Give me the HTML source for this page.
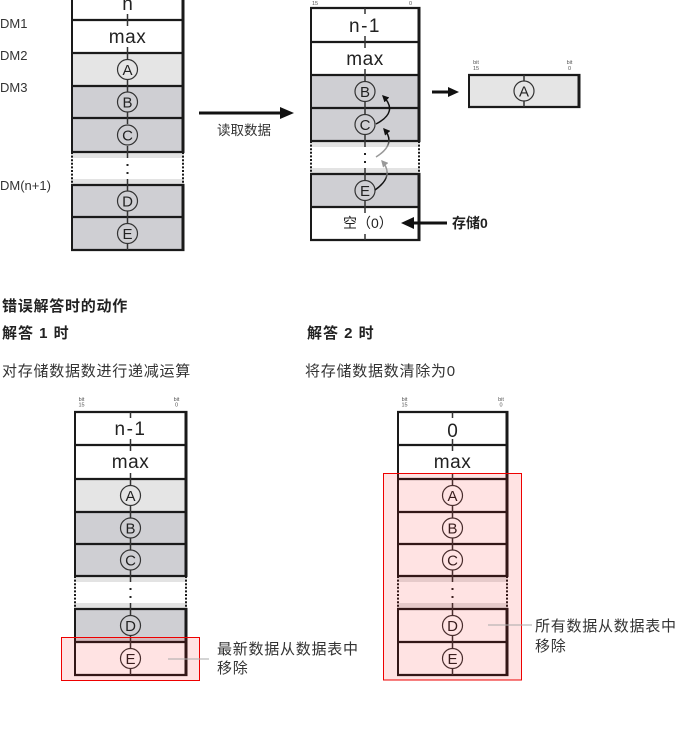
<!DOCTYPE html>
<html><head><meta charset="utf-8"><style>
html,body{margin:0;padding:0;background:#fff;}
body{width:676px;height:751px;overflow:hidden;}
svg{display:block;font-family:"Liberation Sans","Noto Sans CJK SC",sans-serif;}
.hl{stroke:#1a1a1a;stroke-width:2.2;fill:none;}
.vl{stroke:#1a1a1a;stroke-width:2;fill:none;}
.vr{stroke:#1a1a1a;stroke-width:3;fill:none;}
.dl{stroke:#1a1a1a;stroke-width:2;stroke-dasharray:2 1.6;fill:none;}
.tk{stroke:#333;stroke-width:1.5;fill:none;}
.cc{fill:none;stroke:#333;stroke-width:1.2;}
.lt{font-size:15px;fill:#222;text-anchor:middle;}
.big{font-size:19px;fill:#222;text-anchor:middle;}
.bt{font-size:5.5px;fill:#555;text-anchor:middle;}
.cn{font-size:15px;fill:#333;letter-spacing:0.75px;}
</style></head><body>
<svg width="676" height="751" viewBox="0 0 676 751" xmlns="http://www.w3.org/2000/svg">
<defs>
<marker id="mb" viewBox="0 0 10 10" refX="8" refY="5" markerWidth="7" markerHeight="7" orient="auto" markerUnits="userSpaceOnUse"><path d="M0 0L10 5L0 10z" fill="#111"/></marker>
<marker id="mg" viewBox="0 0 10 10" refX="8" refY="5" markerWidth="7" markerHeight="7" orient="auto" markerUnits="userSpaceOnUse"><path d="M0 0L10 5L0 10z" fill="#999"/></marker>
<linearGradient id="g2" gradientUnits="userSpaceOnUse" x1="0" y1="157" x2="0" y2="129"><stop offset="0.35" stop-color="#999"/><stop offset="0.65" stop-color="#111"/></linearGradient>
<linearGradient id="g1" gradientUnits="userSpaceOnUse" x1="0" y1="190" x2="0" y2="161"><stop offset="0.35" stop-color="#111"/><stop offset="0.65" stop-color="#999"/></linearGradient>
</defs>

<!-- ===== Left labels ===== -->
<g font-size="13" fill="#333">
<text x="0" y="28">DM1</text>
<text x="0" y="60">DM2</text>
<text x="0" y="92">DM3</text>
<text x="0" y="190">DM(n+1)</text>
</g>

<!-- ===== T1 ===== -->
<rect x="71" y="-13" width="113" height="66" fill="#fff"/>
<rect x="71" y="53" width="113" height="33" fill="#e5e5e5"/>
<rect x="71" y="86" width="113" height="66" fill="#cfcfd3"/>
<rect x="71" y="152" width="113" height="33" fill="#fff"/>
<rect x="71" y="153" width="113" height="5" fill="#e3e3e3"/>
<rect x="71" y="179" width="113" height="5" fill="#e3e3e3"/>
<rect x="71" y="185" width="113" height="65" fill="#cfcfd3"/>
<path class="hl" d="M71 20H184.5M71 53H184.5M71 86H184.5M71 118H184.5M71 152H184.5M71 185H184.5M71 217H184.5M71 250H184.5"/>
<path class="vl" d="M72 -13V152M72 185V251"/>
<path class="vr" d="M183 -13V152M183 185V251"/>
<path class="dl" d="M72 152V185M183 152V185"/>
<path class="tk" d="M127.5 14V26M127.5 47V59M127.5 80V92M127.5 112V124M127.5 146V158M127.5 179V191M127.5 211V223M127.5 244V250"/>
<text class="big" x="127.5" y="10">n</text>
<text class="big" x="127.5" y="43" letter-spacing="0.5">max</text>
<circle class="cc" cx="127.5" cy="69.5" r="10"/><text class="lt" x="127.5" y="75">A</text>
<circle class="cc" cx="127.5" cy="102" r="10"/><text class="lt" x="127.5" y="107.5">B</text>
<circle class="cc" cx="127.5" cy="135" r="10"/><text class="lt" x="127.5" y="140.5">C</text>
<rect x="126.5" y="164" width="2" height="2" fill="#222"/><rect x="126.5" y="172" width="2" height="2" fill="#222"/>
<circle class="cc" cx="127.5" cy="201" r="10"/><text class="lt" x="127.5" y="206.5">D</text>
<circle class="cc" cx="127.5" cy="233.5" r="10"/><text class="lt" x="127.5" y="239">E</text>

<!-- big arrow -->
<path d="M199 113H282" stroke="#111" stroke-width="3"/>
<path d="M280 107L294 113L280 119z" fill="#111"/>
<text x="217" y="135" font-size="13.5" fill="#333">读取数据</text>

<!-- ===== T2 ===== -->
<text class="bt" x="315" y="5">15</text>
<text class="bt" x="410.5" y="5">0</text>
<rect x="310" y="8" width="110" height="67" fill="#fff"/>
<rect x="310" y="75" width="110" height="66" fill="#cfcfd3"/>
<rect x="310" y="141" width="110" height="33" fill="#fff"/>
<rect x="310" y="142" width="110" height="5" fill="#e3e3e3"/>
<rect x="310" y="168" width="110" height="5" fill="#e3e3e3"/>
<rect x="310" y="174" width="110" height="33" fill="#cfcfd3"/>
<rect x="310" y="207" width="110" height="33" fill="#fff"/>
<path class="hl" d="M310 8H420.5M310 42H420.5M310 75H420.5M310 108H420.5M310 141H420.5M310 174H420.5M310 207H420.5M310 240H420.5"/>
<path class="vl" d="M311 7V141M311 174V241"/>
<path class="vr" d="M419 7V141M419 174V241"/>
<path class="dl" d="M311 141V174M419 141V174"/>
<path class="tk" d="M365 8V14M365 36V48M365 69V81M365 102V114M365 135V147M365 168V180M365 201V213M365 234V240"/>
<text class="big" x="365" y="32" font-size="18" letter-spacing="1.5">n-1</text>
<text class="big" x="365" y="65" letter-spacing="0.5">max</text>
<circle class="cc" cx="365" cy="91.5" r="10"/><text class="lt" x="365" y="97">B</text>
<circle class="cc" cx="365" cy="124.5" r="10"/><text class="lt" x="365" y="130">C</text>
<rect x="364" y="153" width="2" height="2" fill="#222"/><rect x="364" y="161" width="2" height="2" fill="#222"/>
<circle class="cc" cx="365" cy="190.5" r="10"/><text class="lt" x="365" y="196">E</text>
<text x="343" y="228" font-size="14" fill="#222">空（0）</text>
<!-- curved arrows -->
<path d="M376 124Q399 112 383 96" fill="none" stroke="#111" stroke-width="1.5" marker-end="url(#mb)"/>
<path d="M376 157Q397 144 384 129" fill="none" stroke="url(#g2)" stroke-width="1.5" marker-end="url(#mb)"/>
<path d="M375 190Q395 176 382 161" fill="none" stroke="url(#g1)" stroke-width="1.5" marker-end="url(#mg)"/>
<!-- store 0 arrow -->
<path d="M447 223H412" stroke="#111" stroke-width="3"/>
<path d="M414 217L401 223L414 229z" fill="#111"/>
<text x="452" y="228" font-size="14" font-weight="bold" fill="#222">存储0</text>

<!-- small arrow -->
<path d="M432 92H450" stroke="#111" stroke-width="3"/>
<path d="M448 87L459 92L448 97z" fill="#111"/>

<!-- Box A -->
<text class="bt" x="476" y="64">bit</text><text class="bt" x="476" y="70">15</text>
<text class="bt" x="569.5" y="64">bit</text><text class="bt" x="569.5" y="70">0</text>
<rect x="468" y="75" width="112" height="32" fill="#e5e5e5"/>
<path class="hl" d="M468 75H580.5M468 107H580.5"/>
<path class="vl" d="M469 74V108"/>
<path class="vr" d="M579 74V108"/>
<path class="tk" d="M524 75V81M524 101V107"/>
<circle class="cc" cx="524" cy="91" r="10"/><text class="lt" x="524" y="96.5">A</text>

<!-- ===== Headings ===== -->
<text x="2" y="311" font-size="15" font-weight="bold" fill="#222" letter-spacing="0.75">错误解答时的动作</text>
<text x="2" y="338" font-size="15" font-weight="bold" fill="#222" letter-spacing="1" xml:space="preserve">解答 1 时</text>
<text x="307" y="338" font-size="15" font-weight="bold" fill="#222" letter-spacing="1" xml:space="preserve">解答 2 时</text>
<text class="cn" x="2" y="376">对存储数据数进行递减运算</text>
<text class="cn" x="305" y="376">将存储数据数清除为0</text>

<!-- ===== T3 ===== -->
<text class="bt" x="81.5" y="401">bit</text><text class="bt" x="81.5" y="406.5">15</text>
<text class="bt" x="176.5" y="401">bit</text><text class="bt" x="176.5" y="406.5">0</text>
<rect x="74" y="412" width="113" height="67" fill="#fff"/>
<rect x="74" y="479" width="113" height="33" fill="#e5e5e5"/>
<rect x="74" y="512" width="113" height="64" fill="#cfcfd3"/>
<rect x="74" y="576" width="113" height="33" fill="#fff"/>
<rect x="74" y="577" width="113" height="5" fill="#e3e3e3"/>
<rect x="74" y="603" width="113" height="5" fill="#e3e3e3"/>
<rect x="74" y="609" width="113" height="33" fill="#cfcfd3"/>
<rect x="74" y="642" width="113" height="33" fill="#fff"/>
<path class="hl" d="M74 412H187.5M74 445H187.5M74 479H187.5M74 512H187.5M74 544H187.5M74 576H187.5M74 609H187.5M74 642H187.5M74 675H187.5"/>
<path class="vl" d="M75 411V576M75 609V676"/>
<path class="vr" d="M186 411V576M186 609V676"/>
<path class="dl" d="M75 576V609M186 576V609"/>
<path class="tk" d="M130.5 412V418M130.5 439V451M130.5 473V485M130.5 506V518M130.5 538V550M130.5 570V582M130.5 603V615M130.5 636V648M130.5 669V675"/>
<text class="big" x="130.5" y="435" font-size="18" letter-spacing="1.5">n-1</text>
<text class="big" x="130.5" y="468" letter-spacing="0.5">max</text>
<circle class="cc" cx="130.5" cy="495.5" r="10"/><text class="lt" x="130.5" y="501">A</text>
<circle class="cc" cx="130.5" cy="528" r="10"/><text class="lt" x="130.5" y="533.5">B</text>
<circle class="cc" cx="130.5" cy="560" r="10"/><text class="lt" x="130.5" y="565.5">C</text>
<rect x="129.5" y="588" width="2" height="2" fill="#222"/><rect x="129.5" y="596" width="2" height="2" fill="#222"/>
<circle class="cc" cx="130.5" cy="625.5" r="10"/><text class="lt" x="130.5" y="631">D</text>
<circle class="cc" cx="130.5" cy="658.5" r="10"/><text class="lt" x="130.5" y="664">E</text>
<rect x="61.5" y="637.5" width="138" height="43" fill="rgba(255,0,0,0.11)" stroke="#e00" stroke-width="1"/>
<path d="M168 659H209" stroke="#aaa" stroke-width="1"/>
<text class="cn" x="217" y="654">最新数据从数据表中</text>
<text class="cn" x="217" y="673">移除</text>

<!-- ===== T4 ===== -->
<text class="bt" x="404.5" y="401">bit</text><text class="bt" x="404.5" y="406.5">15</text>
<text class="bt" x="501" y="401">bit</text><text class="bt" x="501" y="406.5">0</text>
<rect x="397" y="412" width="111" height="263" fill="#fff"/>
<rect x="397" y="577" width="111" height="5" fill="#e3e3e3"/>
<rect x="397" y="603" width="111" height="5" fill="#e3e3e3"/>
<path class="hl" d="M397 412H508.5M397 445H508.5M397 479H508.5M397 512H508.5M397 544H508.5M397 576H508.5M397 609H508.5M397 642H508.5M397 675H508.5"/>
<path class="vl" d="M398 411V576M398 609V676"/>
<path class="vr" d="M507 411V576M507 609V676"/>
<path class="dl" d="M398 576V609M507 576V609"/>
<path class="tk" d="M452.5 412V418M452.5 439V451M452.5 473V485M452.5 506V518M452.5 538V550M452.5 570V582M452.5 603V615M452.5 636V648M452.5 669V675"/>
<text class="big" x="452.5" y="437" font-size="18">0</text>
<text class="big" x="452.5" y="468" letter-spacing="0.5">max</text>
<circle class="cc" cx="452.5" cy="495.5" r="10"/><text class="lt" x="452.5" y="501">A</text>
<circle class="cc" cx="452.5" cy="528" r="10"/><text class="lt" x="452.5" y="533.5">B</text>
<circle class="cc" cx="452.5" cy="560" r="10"/><text class="lt" x="452.5" y="565.5">C</text>
<rect x="451.5" y="588" width="2" height="2" fill="#222"/><rect x="451.5" y="596" width="2" height="2" fill="#222"/>
<circle class="cc" cx="452.5" cy="625.5" r="10"/><text class="lt" x="452.5" y="631">D</text>
<circle class="cc" cx="452.5" cy="658.5" r="10"/><text class="lt" x="452.5" y="664">E</text>
<rect x="383.5" y="473.5" width="138" height="206.5" fill="rgba(255,0,0,0.11)" stroke="#e00" stroke-width="1"/>
<path d="M488 625H532" stroke="#aaa" stroke-width="1"/>
<text class="cn" x="535" y="631">所有数据从数据表中</text>
<text class="cn" x="535" y="651">移除</text>
</svg>
</body></html>
